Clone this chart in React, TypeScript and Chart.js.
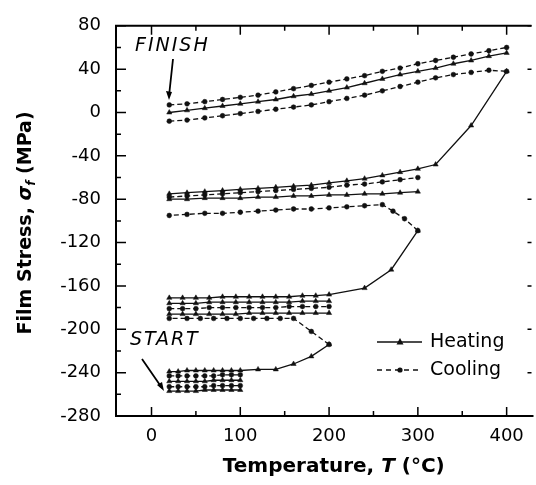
import React, { useEffect, useRef } from 'react';
import { Chart, registerables } from 'chart.js';
Chart.register(...registerables);

const FONT = "'DejaVu Sans', sans-serif";

// axis ticks
const X_TICKS = [0, 100, 200, 300, 400];
const X_MINOR = [50, 150, 250, 350];
const Y_TICKS = [80, 40, 0, -40, -80, -120, -160, -200, -240, -280];
const Y_MINOR = [60, 20, -20, -60, -100, -140, -180, -220, -260];

// ---- first cycles, 20-100 °C ----
const T_C1 = [20, 30, 40, 50, 60, 70, 80, 90, 100];
const C1_HEAT_A = [-257, -257, -257, -257, -256, -256, -256, -256, -256];
const C1_COOL_A = [-253, -253, -253, -253, -253, -252, -252, -252, -252];
const C1_HEAT_B = [-248, -248, -248, -248, -248, -247, -247, -247, -247];
const C1_COOL_B = [-243, -243, -243, -243, -243, -243, -242, -242, -242];
// heating to 200 °C
const T_H1 = [20, 30, 40, 50, 60, 70, 80, 90, 100, 120, 140, 160, 180, 200];
const S_H1 = [-239, -239, -238, -238, -238, -238, -238, -238, -238, -237, -237, -232, -225, -214];
// cooling from 200 °C
const T_K1 = [200, 180, 160, 145, 130, 115, 100, 85, 70, 55, 40, 20];
const S_K1 = [-214, -202, -190, -190, -190, -190, -190, -190, -190, -190, -190, -190];

// ---- cycles 20-200 °C ----
const T_C2 = [20, 35, 50, 65, 80, 95, 110, 125, 140, 155, 170, 185, 200];
const C2_HEAT_A = [-186, -186, -186, -186, -186, -186, -185, -185, -185, -185, -185, -185, -185];
const C2_COOL_A = [-181, -181, -181, -180, -180, -180, -180, -180, -180, -179, -179, -179, -179];
const C2_HEAT_B = [-176, -176, -176, -175, -175, -175, -175, -175, -175, -175, -174, -174, -174];
// heating to 300 °C
const T_H2 = [20, 35, 50, 65, 80, 95, 110, 125, 140, 155, 170, 185, 200, 240, 270, 300];
const S_H2 = [-171, -171, -171, -171, -170, -170, -170, -170, -170, -170, -169, -169, -168, -162, -145, -109];
// cooling from 300 °C
const T_K2 = [300, 285, 272, 260, 240, 220, 200, 180, 160, 140, 120, 100, 80, 60, 40, 20];
const S_K2 = [-109, -98, -91, -85, -86, -87, -88, -89, -89, -90, -91, -92, -93, -93, -94, -95];

// ---- cycles 20-300 °C ----
const T_C3 = [20, 40, 60, 80, 100, 120, 140, 160, 180, 200, 220, 240, 260, 280, 300];
const C3_HEAT_C = [-80, -80, -79, -79, -79, -78, -78, -77, -77, -76, -76, -75, -75, -74, -73];
const C3_COOL_B = [-78, -77, -76, -75, -74, -73, -72, -71, -70, -69, -67, -66, -64, -62, -60];
// heating to 400 °C
const T_H3 = [20, 40, 60, 80, 100, 120, 140, 160, 180, 200, 220, 240, 260, 280, 300, 320, 360, 400];
const S_H3 = [-75, -74, -73, -72, -71, -70, -69, -68, -67, -65, -63, -61, -58, -55, -52, -48, -12, 38];

// ---- cycles 20-400 °C ----
const T_C4 = [20, 40, 60, 80, 100, 120, 140, 160, 180, 200, 220, 240, 260, 280, 300, 320, 340, 360, 380, 400];
const C4_COOL_L = [-8, -7, -5, -3, -1, 1, 3, 5, 7, 10, 13, 16, 20, 24, 28, 32, 35, 37, 39, 38];
const C4_HEAT_M = [0, 2, 4, 6, 8, 10, 12, 15, 17, 20, 23, 27, 31, 35, 38, 41, 45, 48, 52, 55];
const C4_COOL_U = [7, 8, 10, 12, 14, 16, 19, 22, 25, 28, 31, 34, 38, 41, 45, 48, 51, 54, 57, 60];

const SERIES: [number[], number[], 'heat' | 'cool'][] = [
  [T_C1, C1_HEAT_A, 'heat'],
  [T_C1, C1_COOL_A, 'cool'],
  [T_C1, C1_HEAT_B, 'heat'],
  [T_C1, C1_COOL_B, 'cool'],
  [T_H1, S_H1, 'heat'],
  [T_K1, S_K1, 'cool'],
  [T_C2, C2_HEAT_A, 'heat'],
  [T_C2, C2_COOL_A, 'cool'],
  [T_C2, C2_HEAT_B, 'heat'],
  [T_H2, S_H2, 'heat'],
  [T_K2, S_K2, 'cool'],
  [T_C3, C3_HEAT_C, 'heat'],
  [T_C3, C3_COOL_B, 'cool'],
  [T_H3, S_H3, 'heat'],
  [T_C4, C4_COOL_L, 'cool'],
  [T_C4, C4_HEAT_M, 'heat'],
  [T_C4, C4_COOL_U, 'cool'],
];

const INK = '#111';

function styleFor(kind: 'heat' | 'cool') {
  return kind === 'heat'
    ? { borderDash: [] as number[], pointStyle: 'triangle', pointRadius: 3 }
    : { borderDash: [5, 3], pointStyle: 'circle', pointRadius: 2.4 };
}

const framePlugin = {
  id: 'frame',
  afterDraw(chart: any) {
    const { ctx, chartArea: a, scales } = chart;
    const xs = scales.x;
    const ys = scales.y;
    ctx.save();
    ctx.strokeStyle = '#000';
    ctx.fillStyle = '#000';
    ctx.lineWidth = 2;
    ctx.setLineDash([]);
    // frame
    ctx.beginPath();
    ctx.moveTo(a.right, a.top);
    ctx.lineTo(a.left, a.top);
    ctx.lineTo(a.left, a.bottom);
    ctx.lineTo(a.right + 2, a.bottom);
    ctx.stroke();
    // ticks
    ctx.lineWidth = 1.5;
    ctx.beginPath();
    for (const v of X_TICKS) {
      const px = xs.getPixelForValue(v);
      ctx.moveTo(px, a.bottom); ctx.lineTo(px, a.bottom - 9);
      ctx.moveTo(px, a.top); ctx.lineTo(px, a.top + 9);
    }
    for (const v of X_MINOR) {
      const px = xs.getPixelForValue(v);
      ctx.moveTo(px, a.bottom); ctx.lineTo(px, a.bottom - 5);
      ctx.moveTo(px, a.top); ctx.lineTo(px, a.top + 5);
    }
    for (const v of Y_TICKS) {
      const py = ys.getPixelForValue(v);
      ctx.moveTo(a.left, py); ctx.lineTo(a.left + 10, py);
      ctx.moveTo(a.right, py); ctx.lineTo(a.right - 4, py);
    }
    for (const v of Y_MINOR) {
      const py = ys.getPixelForValue(v);
      ctx.moveTo(a.left, py); ctx.lineTo(a.left + 5, py);
    }
    ctx.stroke();

    // x title
    ctx.textAlign = 'center';
    ctx.textBaseline = 'middle';
    ctx.font = `bold 20px ${FONT}`;
    const xt1 = 'Temperature, ';
    const xt2 = 'T';
    const xt3 = ' (°C)';
    ctx.font = `bold 20px ${FONT}`;
    const w1 = ctx.measureText(xt1).width;
    const w3 = ctx.measureText(xt3).width;
    ctx.font = `italic bold 20px ${FONT}`;
    const w2 = ctx.measureText(xt2).width;
    let sx = (a.left + a.right) / 2 + 10 - (w1 + w2 + w3) / 2;
    const ty = 467;
    ctx.textAlign = 'left';
    ctx.font = `bold 20px ${FONT}`;
    ctx.fillText(xt1, sx, ty);
    ctx.font = `italic bold 20px ${FONT}`;
    ctx.fillText(xt2, sx + w1, ty);
    ctx.font = `bold 20px ${FONT}`;
    ctx.fillText(xt3, sx + w1 + w2, ty);

    // y title (rotated) with subscript
    ctx.save();
    ctx.translate(26, (a.top + a.bottom) / 2 + 2);
    ctx.rotate(-Math.PI / 2);
    const y1 = 'Film Stress, ';
    const y2 = 'σ';
    const y3 = 'f';
    const y4 = ' (MPa)';
    ctx.font = `bold 19px ${FONT}`;
    const v1 = ctx.measureText(y1).width;
    const v4 = ctx.measureText(y4).width;
    ctx.font = `italic bold 19px ${FONT}`;
    const v2 = ctx.measureText(y2).width;
    ctx.font = `italic bold 12px ${FONT}`;
    const v3 = ctx.measureText(y3).width;
    let s = -(v1 + v2 + v3 + v4) / 2;
    ctx.textAlign = 'left';
    ctx.textBaseline = 'middle';
    ctx.font = `bold 19px ${FONT}`;
    ctx.fillText(y1, s, 0); s += v1;
    ctx.font = `italic bold 19px ${FONT}`;
    ctx.fillText(y2, s, 0); s += v2;
    ctx.font = `italic bold 12px ${FONT}`;
    ctx.fillText(y3, s, 6); s += v3;
    ctx.font = `bold 19px ${FONT}`;
    ctx.fillText(y4, s, 0);
    ctx.restore();

    // annotations
    ctx.font = `italic 19px ${FONT}`;
    (ctx as any).letterSpacing = '2px';
    ctx.textAlign = 'left';
    ctx.textBaseline = 'middle';
    ctx.fillText('FINISH', 135, 46);
    ctx.fillText('START', 130, 340);
    (ctx as any).letterSpacing = '0px';
    ctx.lineWidth = 1.8;
    ctx.beginPath();
    ctx.moveTo(173, 59); ctx.lineTo(169, 96);
    ctx.moveTo(142, 359); ctx.lineTo(162, 388);
    ctx.stroke();
    // arrow heads
    ctx.beginPath();
    ctx.moveTo(169, 100); ctx.lineTo(166, 91); ctx.lineTo(172, 92); ctx.closePath();
    ctx.fill();
    ctx.beginPath();
    ctx.moveTo(164, 391); ctx.lineTo(157, 385); ctx.lineTo(162, 382); ctx.closePath();
    ctx.fill();

    // legend
    const lx0 = 377, lx1 = 422, lxm = 400;
    ctx.strokeStyle = INK;
    ctx.fillStyle = INK;
    ctx.lineWidth = 1.6;
    ctx.setLineDash([]);
    ctx.beginPath(); ctx.moveTo(lx0, 342); ctx.lineTo(lx1, 342); ctx.stroke();
    ctx.beginPath(); ctx.moveTo(lxm, 338); ctx.lineTo(lxm + 3.5, 344.5); ctx.lineTo(lxm - 3.5, 344.5); ctx.closePath(); ctx.fill();
    ctx.setLineDash([5, 4]);
    ctx.beginPath(); ctx.moveTo(lx0, 370); ctx.lineTo(lx1, 370); ctx.stroke();
    ctx.setLineDash([]);
    ctx.beginPath(); ctx.arc(lxm, 370, 2.6, 0, Math.PI * 2); ctx.fill();
    ctx.font = `19px ${FONT}`;
    ctx.fillStyle = '#000';
    ctx.fillText('Heating', 430, 342);
    ctx.fillText('Cooling', 430, 370);
    ctx.restore();
  },
};

export default function App() {
  const ref = useRef<HTMLCanvasElement>(null);
  useEffect(() => {
    const datasets = SERIES.map(([t, s, kind]) => ({
      data: t.map((x, i) => ({ x, y: s[i] })),
      borderColor: INK,
      backgroundColor: INK,
      pointBackgroundColor: INK,
      pointBorderColor: INK,
      borderWidth: 1.3,
      pointBorderWidth: 0.5,
      showLine: true,
      tension: 0,
      ...styleFor(kind),
    }));
    const chart = new Chart(ref.current!, {
      type: 'scatter',
      data: { datasets },
      options: {
        responsive: false,
        animation: false,
        devicePixelRatio: 1,
        layout: { padding: { top: 19, right: 2, left: 0, bottom: 0 } },
        plugins: { legend: { display: false }, tooltip: { enabled: false } },
        scales: {
          x: {
            type: 'linear',
            min: -40,
            max: 428,
            grid: { display: false, drawTicks: false },
            border: { display: false },
            ticks: { font: { family: FONT, size: 18 }, color: '#000', padding: 10, callback: (v: any) => String(v) },
            afterBuildTicks: (s: any) => { s.ticks = X_TICKS.map((v) => ({ value: v })); },
            afterFit: (s: any) => { s.height = 69; },
          },
          y: {
            type: 'linear',
            min: -280,
            max: 80,
            grid: { display: false, drawTicks: false },
            border: { display: false },
            ticks: { font: { family: FONT, size: 18 }, color: '#000', padding: 15, callback: (v: any) => String(v) },
            afterBuildTicks: (s: any) => { s.ticks = Y_TICKS.map((v) => ({ value: v })); },
            afterFit: (s: any) => { s.width = 116; },
          },
        },
      },
      plugins: [framePlugin],
    } as any);
    return () => chart.destroy();
  }, []);
  return (
    <div style={{ position: 'fixed', left: 0, top: 0, width: 536, height: 485, background: '#fff' }}>
      <canvas ref={ref} width={536} height={485} style={{ display: 'block', width: 536, height: 485 }} />
    </div>
  );
}
